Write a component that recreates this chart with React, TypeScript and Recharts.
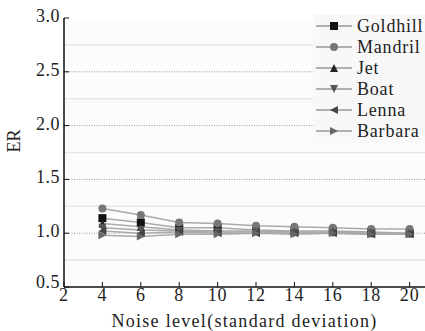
import { LineChart, Line, XAxis, YAxis, ReferenceLine, Label } from 'recharts';

const noise = [4, 6, 8, 10, 12, 14, 16, 18, 20];
const goldhill = [1.14, 1.1, 1.05, 1.05, 1.03, 1.02, 1.02, 1.01, 1.0];
const mandril = [1.23, 1.17, 1.1, 1.09, 1.07, 1.06, 1.05, 1.04, 1.04];
const jet = [1.09, 1.06, 1.03, 1.02, 1.02, 1.01, 1.01, 1.0, 1.0];
const boat = [1.05, 1.03, 1.02, 1.01, 1.01, 1.0, 1.0, 1.0, 0.99];
const lenna = [1.02, 1.0, 1.01, 1.0, 1.0, 1.0, 1.0, 0.99, 0.99];
const barbara = [0.98, 0.97, 0.99, 0.99, 1.0, 0.99, 1.0, 0.99, 0.99];

const xTicks = [2, 4, 6, 8, 10, 12, 14, 16, 18, 20];
const yTicks = [0.5, 1.0, 1.5, 2.0, 2.5, 3.0];
const majorGrid = [1.0, 1.5, 2.0, 2.5];
const minorGrid = [0.75, 1.25, 1.75, 2.25, 2.75];

const data = noise.map((n, i) => ({
  n,
  Goldhill: goldhill[i],
  Mandril: mandril[i],
  Jet: jet[i],
  Boat: boat[i],
  Lenna: lenna[i],
  Barbara: barbara[i],
}));

const series = [
  { key: 'Goldhill', color: '#111', shape: 'square' },
  { key: 'Mandril', color: '#777', shape: 'circle' },
  { key: 'Jet', color: '#222', shape: 'up' },
  { key: 'Boat', color: '#555', shape: 'down' },
  { key: 'Lenna', color: '#444', shape: 'left' },
  { key: 'Barbara', color: '#666', shape: 'right' },
];

function Marker({ cx, cy, shape, color, r = 4 }: any) {
  if (cx == null || cy == null) return null;
  if (shape === 'square') return <rect x={cx - r} y={cy - r} width={2 * r} height={2 * r} fill={color} />;
  if (shape === 'circle') return <circle cx={cx} cy={cy} r={r} fill={color} />;
  let pts = '';
  if (shape === 'up') pts = `${cx},${cy - r} ${cx - r},${cy + r} ${cx + r},${cy + r}`;
  if (shape === 'down') pts = `${cx},${cy + r} ${cx - r},${cy - r} ${cx + r},${cy - r}`;
  if (shape === 'left') pts = `${cx - r},${cy} ${cx + r},${cy - r} ${cx + r},${cy + r}`;
  if (shape === 'right') pts = `${cx + r},${cy} ${cx - r},${cy - r} ${cx - r},${cy + r}`;
  return <polygon points={pts} fill={color} />;
}

const font = "'Liberation Serif', 'Times New Roman', serif";
const textStyle = { fontSize: 18, fill: '#222', fontFamily: font };

function XTick({ x, y, payload }: any) {
  return (
    <text x={x} y={y + 14} textAnchor="middle" fontFamily={font} fontSize={18} fill="#222" letterSpacing={0.8}>{payload.value}</text>
  );
}

function YTick({ x, y, payload }: any) {
  // the bottom label sits a little higher so it clears the first x tick
  const dy = payload.value === 0.5 ? 1 : 4;
  return (
    <text x={x - 3} y={y + dy} textAnchor="end" fontFamily={font} fontSize={18} fill="#222" letterSpacing={0.5}>{Number(payload.value).toFixed(1)}</text>
  );
}

function LegendBox() {
  return (
    <svg width={112} height={128} style={{ display: 'block' }}>
      <rect x={0} y={0} width={112} height={128} fill="#f8f8f8" />
      {series.map((s, i) => {
        const y = 11 + i * 21;
        return (
          <g key={s.key}>
            <line x1={3} x2={39} y1={y} y2={y} stroke="#999" strokeWidth={1.5} />
            <Marker cx={21} cy={y} shape={s.shape} color={s.color} r={4} />
            <text x={44} y={y + 6} fontFamily={font} fontSize={18} fill="#222" letterSpacing={0.8}>{s.key}</text>
          </g>
        );
      })}
    </svg>
  );
}

export default function App() {
  return (
    <div style={{ position: 'absolute', left: 0, top: 0, width: 425, height: 331, background: '#fff', fontFamily: font, overflow: 'hidden' }}>
      <LineChart width={425} height={331} data={data} margin={{ top: 18, right: 0, bottom: 0, left: 0 }}>
        <rect x={64} y={18} width={361} height={269} fill="#fcfcfc" />
        {minorGrid.map(v => (
          <ReferenceLine key={'m' + v} y={v} stroke="#e6e6e6" strokeWidth={1.5} />
        ))}
        {majorGrid.map(v => (
          <ReferenceLine key={'M' + v} y={v} stroke="#999" strokeDasharray="1 1.5" />
        ))}
        <XAxis
          dataKey="n"
          type="number"
          domain={[2, 20.8]}
          ticks={xTicks}
          height={44}
          axisLine={{ stroke: '#111', strokeWidth: 1.5 }}
          tickLine={{ stroke: '#111' }}
          tickSize={-5}
          tickMargin={5}
          tick={<XTick />}
          allowDataOverflow
        >
          <Label value="Noise level(standard deviation)" position="insideBottom" offset={4} style={{ ...textStyle, letterSpacing: 1.3 }} />
        </XAxis>
        <YAxis
          type="number"
          domain={[0.5, 3.0]}
          ticks={yTicks}
          width={64}
          axisLine={{ stroke: '#111', strokeWidth: 1.5 }}
          tickLine={{ stroke: '#111' }}
          tickSize={-5}
          tickMargin={6}
          tick={<YTick />}
        >
          <Label value="ER" angle={-90} position="insideLeft" offset={14} style={textStyle} />
        </YAxis>
        {series.map(s => (
          <Line
            key={s.key}
            dataKey={s.key}
            stroke="#aaa"
            strokeWidth={1.5}
            isAnimationActive={false}
            dot={(p: any) => <Marker key={s.key + p.index} cx={p.cx} cy={p.cy} shape={s.shape} color={s.color} r={4} />}
          />
        ))}
      </LineChart>
      <div style={{ position: 'absolute', left: 313, top: 15 }}>
        <LegendBox />
      </div>
    </div>
  );
}
